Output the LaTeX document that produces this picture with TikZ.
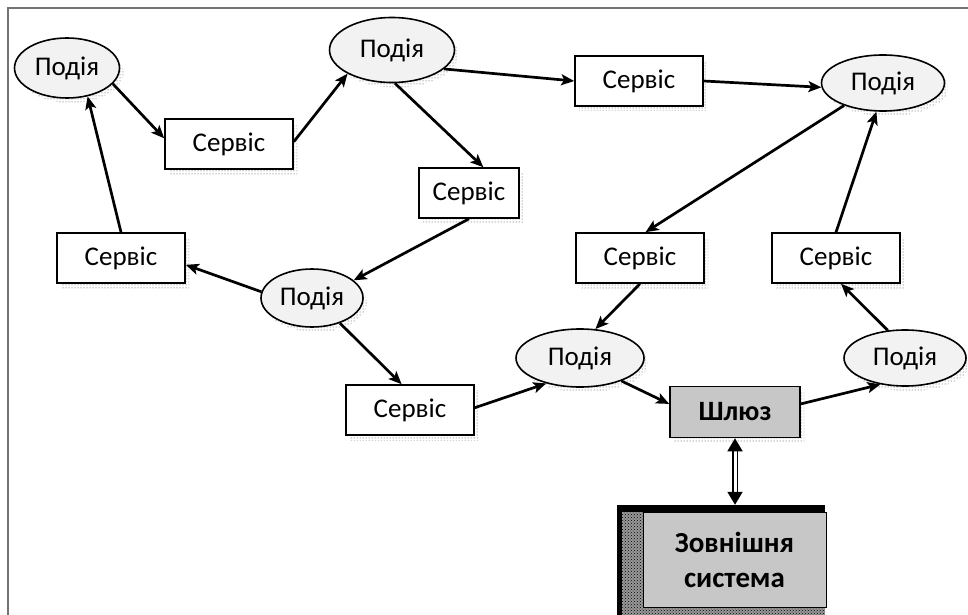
\documentclass[tikz,border=0pt]{standalone}
\usepackage{fontspec}
\setmainfont{Carlito}
\usetikzlibrary{shapes.geometric,arrows.meta,patterns,shadows}
\begin{document}
\begin{tikzpicture}[x=1pt,y=-1pt,
  shd/.style={general shadow={shadow xshift=4pt,shadow yshift=-5pt,pattern=dots,pattern color=black!75}},
  ev/.style={ellipse,draw,line width=1.6pt,fill=black!5,inner sep=0pt,shd,
     font=\fontsize{27}{30}\selectfont},
  svc/.style={rectangle,draw,line width=1.6pt,fill=white,inner sep=0pt,shd,
     minimum width=128pt,minimum height=50pt,font=\fontsize{27}{30}\selectfont},
  gwbox/.style={rectangle,draw,line width=1.6pt,fill=black!22,inner sep=0pt,shd,
     minimum width=130pt,minimum height=51pt,font=\bfseries\fontsize{28}{30}\selectfont},
  arr/.style={line width=2.7pt,-{Stealth[length=13pt,width=11pt,inset=3pt]}}]
\useasboundingbox (0,0) rectangle (968,615);
\draw[black!55,line width=1.5pt] (8,615) -- (8,8) -- (968,8);

% events
\node[ev,minimum width=105pt,minimum height=60pt] (e1) at (67,68) {Подія};
\node[ev,minimum width=125pt,minimum height=65pt] (e2) at (392,50) {Подія};
\node[ev,minimum width=123pt,minimum height=56pt] (e3) at (883,83) {Подія};
\node[ev,minimum width=102pt,minimum height=58pt] (e4) at (312,298) {Подія};
\node[ev,minimum width=128pt,minimum height=58pt] (e5) at (580,358) {Подія};
\node[ev,minimum width=122pt,minimum height=56pt] (e6) at (905,358) {Подія};

% services
\node[svc] (s1) at (229,144) {Сервіс};
\node[svc] (s2) at (639,81) {Сервіс};
\node[svc,minimum width=100pt] (s3) at (469,193) {Сервіс};
\node[svc] (s4) at (121,258) {Сервіс};
\node[svc] (s5) at (640,258) {Сервіс};
\node[svc] (s6) at (836,258) {Сервіс};
\node[svc] (s7) at (410,410) {Сервіс};

% gateway
\node[gwbox] (gw) at (735,412) {Шлюз};

% external system
\node[rectangle,fill=black,minimum width=208pt,minimum height=112pt,inner sep=0pt] (extsh) at (721,561) {};
\node[rectangle,fill=black!40,postaction={pattern=crosshatch dots,pattern color=black},
  minimum width=203pt,minimum height=103pt,inner sep=0pt] (extmid) at (723.5,563.5) {};
\node[rectangle,draw,line width=1pt,fill=black!22,minimum width=183pt,minimum height=95pt,inner sep=0pt,
  align=center,font=\bfseries\fontsize{29}{35}\selectfont] (ext) at (734.5,559.5) {Зовнішня\\система};
\coordinate (extin) at (gw.south |- extsh.north);

% connectors
\draw[arr] (e1.-19) -- (s1.175);
\draw[arr] (s1.2) -- (e2.208);
\draw[arr] (e2.-20) -- (s2.west);
\draw[arr] (s2.east) -- (e3.184);
\draw[arr] (e2.-85) -- (s3.61);
\draw[arr] (s3.south) -- (e4.23);
\draw[arr] (e4.173) -- (s4.-6);
\draw[arr] (s4.north) -- (e1.-54);
\draw[arr] (e4.-42) -- (s7.108);
\draw[arr] (s7.2) -- (e5.217);
\draw[arr] (e3.210) -- (s5.78);
\draw[arr] (s5.south) -- (e5.62);
\draw[arr] (e5.-29) -- (gw.173);
\draw[arr] (gw.7) -- (e6.227);
\draw[arr] (e6.122) -- (s6.-79);
\draw[arr] (s6.north) -- (e3.-103);
\draw[line width=1.8pt,double,double distance=3pt,
  {Triangle[length=13pt,width=15pt]}-{Triangle[length=13pt,width=15pt]}] (gw.south) -- (extin);
\end{tikzpicture}
\end{document}
